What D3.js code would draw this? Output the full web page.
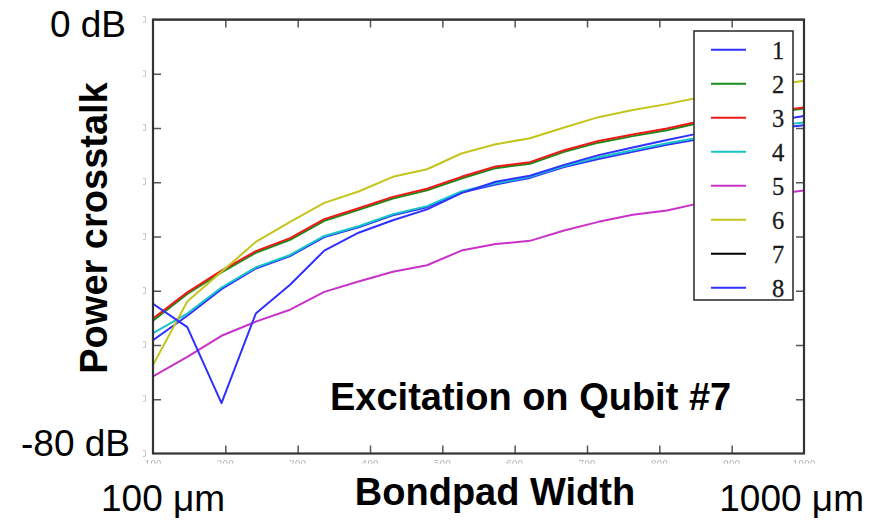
<!DOCTYPE html>
<html><head><meta charset="utf-8">
<script src="https://cdn.jsdelivr.net/npm/d3@7"></script>
<style>body{margin:0;background:#fff} svg{display:block}</style>
</head><body><svg id="c" width="876" height="521"></svg>
<script>
// ---- data ----
const xValues = [100,147.4,194.7,242.1,289.5,336.8,384.2,431.6,478.9,526.3,573.7,621.1,668.4,715.8,763.2,810.5,857.9,905.3,952.6,1000];
const xTicks = [100,200,300,400,500,600,700,800,900,1000];
const yTicks = [0,-10,-20,-30,-40,-50,-60,-70,-80];
const seriesNames = ["1","2","3","4","5","6","7","8"];
const seriesColors = ["#3030ff","#1a8c1a","#f01818","#19c4c4","#c832c8","#c4c41c","#000000","#3030ff"];
const q1 = [-59.1,-54.6,-49.7,-45.9,-43.6,-40.1,-38.3,-36.1,-34.6,-31.9,-30.4,-29.2,-27.2,-25.7,-24.4,-23.1,-22.0,-21.0,-20.2,-19.5];
const q2 = [-55.5,-50.6,-46.6,-43.0,-40.6,-37.1,-35.1,-33.0,-31.5,-29.3,-27.4,-26.6,-24.4,-22.7,-21.5,-20.4,-19.0,-18.1,-17.3,-16.4];
const q3 = [-55.1,-50.3,-46.3,-42.7,-40.3,-36.8,-34.8,-32.7,-31.2,-29.0,-27.1,-26.3,-24.1,-22.4,-21.2,-20.1,-18.7,-17.8,-17.0,-16.2];
const q4 = [-57.8,-54.2,-49.4,-45.7,-43.4,-39.9,-38.1,-35.9,-34.4,-31.7,-30.2,-29.0,-27.0,-25.4,-24.1,-22.8,-21.7,-20.6,-19.7,-19.0];
const q5 = [-65.8,-62.2,-58.3,-55.7,-53.5,-50.2,-48.3,-46.5,-45.3,-42.6,-41.4,-40.8,-38.9,-37.3,-36.0,-35.2,-33.8,-33.0,-32.3,-31.5];
const q6 = [-63.7,-52.0,-46.5,-41.0,-37.3,-33.8,-31.7,-29.0,-27.6,-24.7,-23.0,-21.9,-19.9,-18.0,-16.7,-15.6,-14.3,-13.2,-12.2,-11.3];
const q7 = [0,0,0,0,0,0,0,0,0,0,0,0,0,0,0,0,0,0,0,0];
const q8 = [-52.4,-56.7,-70.7,-54.2,-48.9,-42.6,-39.3,-37.0,-35.0,-32.0,-29.9,-28.8,-26.8,-25.0,-23.6,-22.2,-20.9,-19.8,-18.8,-17.8];
const seriesValues = [q1,q2,q3,q4,q5,q6,q7,q8];

// ---- layout ----
const L = 153, R = 804, T = 19.5, B = 453.5;
const svg = d3.select("#c");
const x = d3.scaleLinear().domain([100,1000]).range([L,R]);
const y = d3.scaleLinear().domain([-80,0]).range([B,T]);

const defs = svg.append("defs");
defs.append("clipPath").attr("id","plot").append("rect").attr("x",L).attr("y",T).attr("width",R-L).attr("height",B-T);
defs.append("clipPath").attr("id","ylab").append("rect").attr("x",143).attr("y",0).attr("width",3).attr("height",521);
defs.append("clipPath").attr("id","xlab").append("rect").attr("x",0).attr("y",459.5).attr("width",876).attr("height",4);
defs.append("filter").attr("id","blur").append("feGaussianBlur").attr("stdDeviation",0.7);

// tiny (cropped) tick labels
const xl = svg.append("g").attr("clip-path","url(#xlab)").attr("filter","url(#blur)");
xl.selectAll("text").data(xTicks).join("text")
  .attr("x",d=>x(d)).attr("y",467).attr("text-anchor","middle")
  .attr("font-family","DejaVu Serif").attr("font-size",9).attr("fill","#aaa").text(d=>d);
const yl = svg.append("g").attr("clip-path","url(#ylab)").attr("filter","url(#blur)");
yl.selectAll("text").data(yTicks).join("text")
  .attr("x",147).attr("y",d=>y(d)+3).attr("text-anchor","end")
  .attr("font-family","DejaVu Serif").attr("font-size",9).attr("fill","#aaa").text(d=>d);

// series lines
const line = d3.line().x((d,i)=>x(xValues[i])).y(d=>y(d));
const gl = svg.append("g").attr("clip-path","url(#plot)");
seriesValues.forEach((vals,k)=>{
  gl.append("path").datum(vals).attr("d",line)
    .attr("fill","none").attr("stroke",seriesColors[k]).attr("stroke-width",2)
    .attr("stroke-linejoin","round");
});

// ticks (inward)
const tickInner = xTicks.slice(1,-1);
const yInner = yTicks.slice(1,-1);
const axB = svg.append("g").attr("transform",`translate(0,${B})`).call(d3.axisBottom(x).tickValues(tickInner).tickSizeInner(-8).tickSizeOuter(0).tickFormat(""));
const axT = svg.append("g").attr("transform",`translate(0,${T})`).call(d3.axisTop(x).tickValues(tickInner).tickSizeInner(-8).tickSizeOuter(0).tickFormat(""));
const axL = svg.append("g").attr("transform",`translate(${L},0)`).call(d3.axisLeft(y).tickValues(yInner).tickSizeInner(-8).tickSizeOuter(0).tickFormat(""));
const axR = svg.append("g").attr("transform",`translate(${R},0)`).call(d3.axisRight(y).tickValues(yInner).tickSizeInner(-8).tickSizeOuter(0).tickFormat(""));
[axB,axT,axL,axR].forEach(a=>{
  a.select(".domain").remove();
  a.selectAll("line").attr("stroke","#555").attr("stroke-width",1.5);
});
// frame
svg.append("rect").attr("x",L).attr("y",T).attr("width",R-L).attr("height",B-T)
  .attr("fill","none").attr("stroke","#333").attr("stroke-width",2.2);

// legend
const lg = svg.append("g");
lg.append("rect").attr("x",694).attr("y",31).attr("width",99).attr("height",269)
  .attr("fill","#fff").attr("stroke","#333").attr("stroke-width",1.6);
seriesNames.forEach((n,k)=>{
  const yy = 49.8 + k*34.0;
  lg.append("line").attr("x1",711).attr("x2",746).attr("y1",yy).attr("y2",yy)
    .attr("stroke",seriesColors[k]).attr("stroke-width",2);
  lg.append("text").attr("x",778).attr("y",yy+9.5).attr("text-anchor","middle")
    .attr("font-family","Liberation Serif").attr("font-size",24.5).attr("fill","#1a1a1a")
    .attr("stroke","#1a1a1a").attr("stroke-width",0.3).text(n);
});

// annotations
const sans = "Liberation Sans, Arial, sans-serif";
svg.append("text").attr("x",126).attr("y",37).attr("text-anchor","end")
  .attr("font-family",sans).attr("font-size",37).text("0 dB");
svg.append("text").attr("x",130).attr("y",456).attr("text-anchor","end")
  .attr("font-family",sans).attr("font-size",37).text("-80 dB");
svg.append("text").attr("x",101).attr("y",511).attr("font-family",sans).attr("font-size",37).text("100 \u03bcm");
svg.append("text").attr("x",864).attr("y",511).attr("text-anchor","end").attr("font-family",sans).attr("font-size",37).text("1000 \u03bcm");
svg.append("text").attr("x",495).attr("y",505).attr("text-anchor","middle")
  .attr("font-family",sans).attr("font-weight","bold").attr("font-size",38).text("Bondpad Width");
svg.append("text").attr("transform","translate(107,228) rotate(-90)").attr("text-anchor","middle")
  .attr("font-family",sans).attr("font-weight","bold").attr("font-size",38).text("Power crosstalk");
svg.append("text").attr("x",330).attr("y",410)
  .attr("font-family",sans).attr("font-weight","bold").attr("font-size",38).text("Excitation on Qubit #7");
</script></body></html>
